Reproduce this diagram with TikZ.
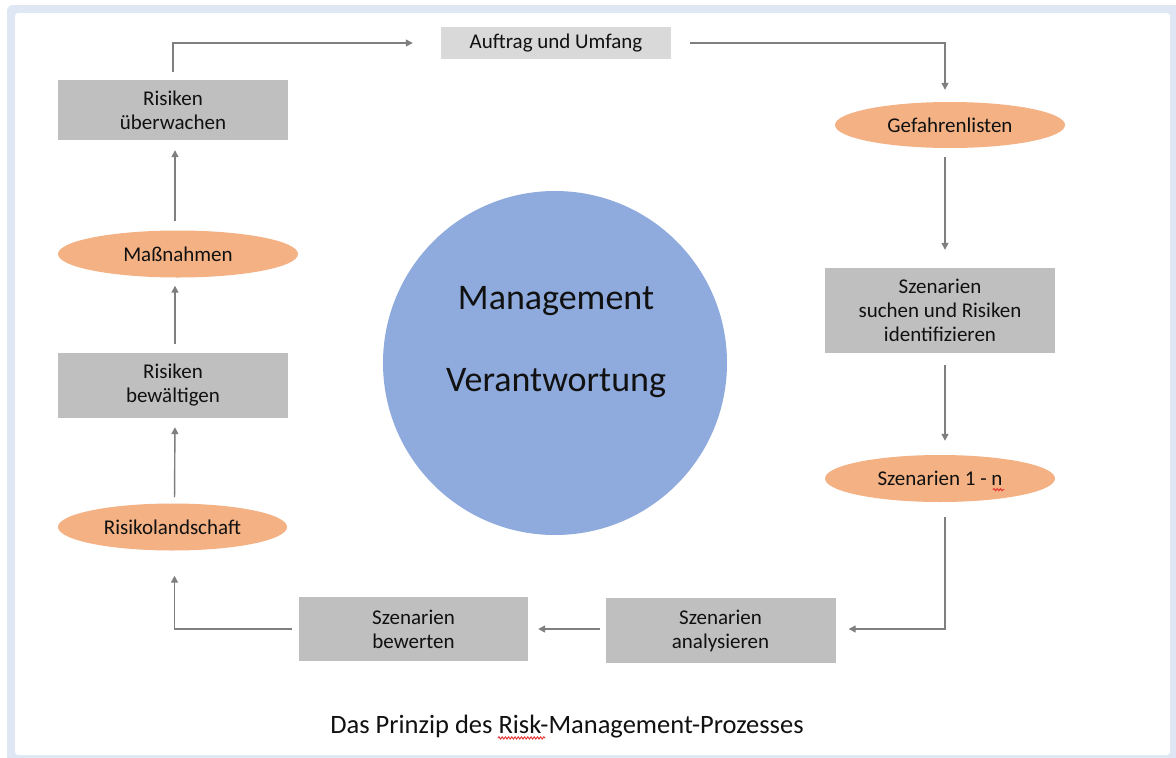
\documentclass[tikz,border=0pt]{standalone}
\usepackage{fontspec}
\setmainfont{Carlito}
\usetikzlibrary{arrows.meta,shapes.geometric,calc,decorations.pathmorphing}
\definecolor{frameblue}{HTML}{DEE7F3}
\definecolor{boxgray}{HTML}{BFBFBF}
\definecolor{lightbox}{HTML}{D9D9D9}
\definecolor{ovalorange}{HTML}{F4B183}
\definecolor{circblue}{HTML}{8FAADC}
\definecolor{arrgray}{HTML}{7F7F7F}
\definecolor{txt}{HTML}{111111}
\definecolor{spellred}{HTML}{E03030}
\tikzset{
  stepbox/.style={rectangle, fill=boxgray, inner sep=0pt, align=center, text=txt,
    font=\fontsize{21}{24}\selectfont, minimum width=230pt},
  ovalbox/.style={ellipse, fill=ovalorange, inner sep=0pt, align=center, text=txt,
    font=\fontsize{21}{24}\selectfont, minimum height=47pt},
  arr/.style={draw=arrgray, line width=1.4pt, -{Triangle[length=7pt,width=7pt]}},
  spellline/.style={draw=spellred, line width=0.9pt, line cap=round, decorate,
    decoration={snake, amplitude=1.1pt, segment length=3.2pt}}
}
\begin{document}
\begin{tikzpicture}[x=1pt,y=-1pt]
\useasboundingbox (0,0) rectangle (1176,758);
\fill[frameblue, rounded corners=6pt] (7,5) rectangle (1190,770);
\fill[white, rounded corners=3pt] (15,13) rectangle (1170,755);

% nodes
\node[stepbox, fill=lightbox, minimum height=32pt] (auftrag) at (556,43) {Auftrag und Umfang};
\node[stepbox, minimum height=60pt] (ueberw) at (173,110) {Risiken\\überwachen};
\node[ovalbox, minimum width=240pt] (massn) at (178,254) {Maßnahmen};
\node[stepbox, minimum height=65pt] (bewael) at (173,385.5) {Risiken\\bewältigen};
\node[ovalbox, minimum width=229pt] (rland) at (172.5,527) {Risikolandschaft};
\node[ovalbox, minimum width=230pt, minimum height=46pt] (gefahr) at (950,125) {Gefahrenlisten};
\node[stepbox, minimum height=85pt] (suchen) at (940,310.5) {Szenarien\\suchen und Risiken\\identifizieren};
\node[ovalbox, minimum width=230pt] (szn) at (940,478.5) {Szenarien 1 - n};
\node[stepbox, minimum height=65pt] (analys) at (720.5,630.5) {Szenarien\\analysieren};
\node[stepbox, minimum width=229pt, minimum height=64pt] (bewert) at (413.5,629) {Szenarien\\bewerten};

\node[circle, fill=circblue, minimum size=344pt, inner sep=0pt] (mgmt) at (555,363) {};
\node[align=center, text=txt, font=\fontsize{36}{82}\selectfont] (mgmttext) at (556,342) {Management\\Verantwortung};

\node[text=txt, font=\fontsize{26.5}{30}\selectfont, inner sep=0pt] (caption) at (567,727) {Das Prinzip des Risk-Management-Prozesses};

% spell-check underlines
\coordinate (riskwave) at ($(caption.base)+(-69,4)$);
\coordinate (nwave) at ($(szn.base)+(53,4)$);
\draw[spellline] (riskwave) -- ++(47,0);
\draw[spellline] (nwave) -- ++(11,0);

% connectors
\draw[arr, shorten <=8pt] (ueberw.north) |- ([xshift=-28pt]auftrag.west);
\draw[arr, shorten <=19pt] (auftrag.east) -| ([xshift=-5pt,yshift=12pt]gefahr.north);
\draw[arr, shorten <=9pt, shorten >=18pt] ([xshift=-5pt]gefahr.south) -- ([xshift=5pt]suchen.north);
\draw[arr, shorten <=12pt, shorten >=14pt] ([xshift=5pt]suchen.south) -- ([xshift=5pt]szn.north);
\draw[arr, shorten <=15pt] ([xshift=5pt]szn.south) |- ([xshift=13pt,yshift=1.5pt]analys.east);
\draw[arr, shorten <=5pt, shorten >=10pt] ([yshift=1.5pt]analys.west) -- (bewert.east);
\draw[arr, shorten <=7pt, shorten >=25pt] (bewert.west) -| ([xshift=2pt]rland.south);
\draw[arr, shorten <=6pt, shorten >=9pt] ([xshift=2pt]rland.north) -- ([xshift=2pt]bewael.south);
\draw[arr, shorten <=9pt, shorten >=8pt] ([xshift=2pt]bewael.north) -- ([xshift=2pt]bewael.north |- massn.south);
\draw[arr, shorten <=9pt, shorten >=10pt] ([xshift=-3pt]massn.north) -- ([xshift=2pt]ueberw.south);
\end{tikzpicture}
\end{document}
